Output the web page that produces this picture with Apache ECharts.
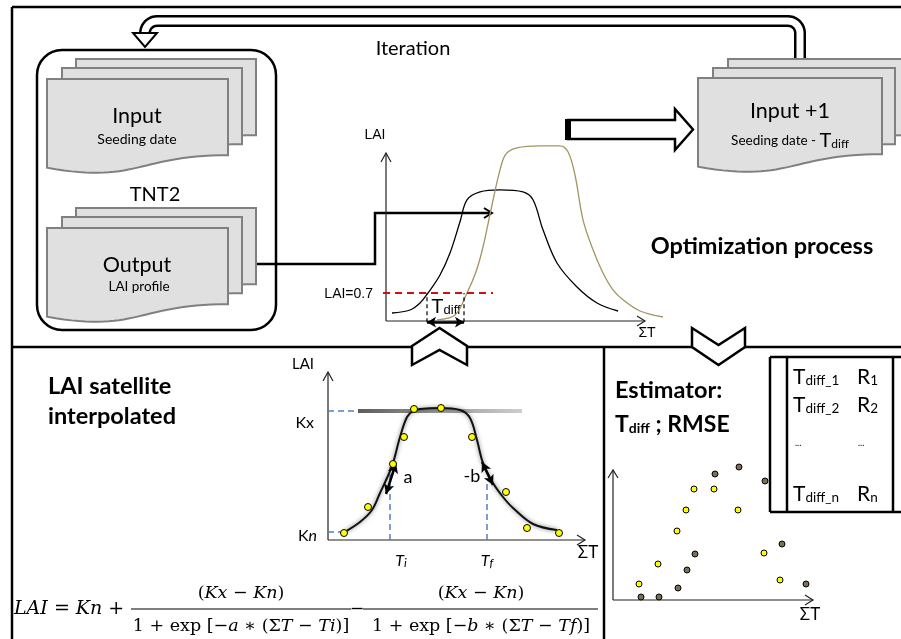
<!DOCTYPE html>
<html><head><meta charset="utf-8">
<script src="https://cdn.jsdelivr.net/npm/echarts@6/dist/echarts.min.js"></script>
<style>html,body{margin:0;padding:0;background:#fff}#c{width:901px;height:639px}</style>
</head><body><div id="c"></div>
<script>
// ---------------- DATA ----------------
// Top panel: simulated LAI profile (TNT2 output) and shifted profile  [ΣT, LAI]
const simulatedLAI = [[60,0.2],[240,0.275],[340,0.45],[420,0.7],[540,1.15],[640,1.7],[740,2.48],[810,3.03],[940,3.23],[1140,3.28],[1370,3.23],[1470,3.03],[1570,2.28],[1710,1.45],[1910,0.85],[2110,0.45],[2320,0.25]];
const shiftedLAI = [[510,0.03],[690,0.15],[810,0.7],[900,1.23],[970,1.85],[1060,2.9],[1140,3.78],[1200,4.18],[1310,4.33],[1540,4.38],[1740,4.38],[1820,4.23],[1890,3.65],[1970,2.53],[2070,1.78],[2170,1.2],[2270,0.78],[2370,0.53],[2540,0.25],[2770,0.1]];
const thresholdLAI = 0.7;
const thresholdSpan = [-30, 1070];
const tdiffBounds = [410, 780];
// Bottom-left panel: fitted double logistic and satellite LAI points
const fittedCurve = [[150,0.175],[320,0.45],[440,0.75],[520,1.175],[590,1.55],[650,1.925],[720,2.575],[790,3.075],[850,3.225],[920,3.275],[1120,3.3],[1320,3.25],[1420,3.05],[1490,2.5],[1550,1.925],[1650,1.425],[1750,1.075],[1850,0.8],[2050,0.4],[2290,0.25]];
const satellitePoints = [[160,0.175],[400,0.825],[650,1.9],[760,2.575],[860,3.275],[1130,3.3],[1440,2.575],[1780,1.2],[1990,0.3],[2310,0.175]];
const KxValue = 3.225, KnValue = 0.2;
const kxLineSpan = [300, 1940];
const kxDashEnd = 300, knDashEnd = 150;
const TiValue = 620, TiTop = 1.825;
const TfValue = 1590, TfTop = 1.5;
const slopeA = [[580,1.15],[680,1.925]];
const slopeB = [[1540,1.95],[1650,1.375]];
// Bottom-right panel: estimator scatter
const estimatorYellow = [[260,0.4],[450,0.9],[640,1.725],[730,2.25],[810,2.775],[1010,2.775],[1250,2.25],[1510,1.175],[1670,0.5]];
const estimatorGray = [[280,0.075],[460,0.075],[650,0.3],[740,0.75],[820,1.15],[1020,3.15],[1260,3.325],[1520,2.975],[1690,1.4],[1930,0.4]];
const tableRows = [['diff_1','1'],['diff_2','2'],['...','...'],['diff_n','n']];

// ---------------- GRAPHICS ----------------
const G = [];
const S = o => { o.silent = true; G.push(o); };
function ln(x1,y1,x2,y2,w,c,dash){S({type:'line',shape:{x1,y1,x2,y2},style:{stroke:c||'#000',lineWidth:w||1,lineDash:dash||null}});}
function pl(points,st){S({type:'polyline',shape:{points},style:Object.assign({fill:null,stroke:'#000',lineWidth:1.5},st||{})});}
function pg(points,st){S({type:'polygon',shape:{points},style:Object.assign({fill:'#fff',stroke:'#000',lineWidth:2},st||{})});}
function tx(x,y,text,st){S({type:'text',x,y,style:Object.assign({text,fill:'#000',font:'16px Lato',align:'center',verticalAlign:'middle'},st||{})});}
function docPts(x0,y0,w){const h=95;const pts=[[x0,y0],[x0+w,y0],[x0+w,y0+0.802*h]];
  const P0=[x0+w,y0+0.802*h],P1=[x0+w/2,y0+0.802*h],P2=[x0+w/2,y0+1.107*h],P3=[x0,y0+0.934*h];
  for(let i=1;i<=30;i++){const t=i/30,u=1-t;
    pts.push([u*u*u*P0[0]+3*u*u*t*P1[0]+3*u*t*t*P2[0]+t*t*t*P3[0], u*u*u*P0[1]+3*u*u*t*P1[1]+3*u*t*t*P2[1]+t*t*t*P3[1]]);}
  return pts;}
function doc(x0,y0,w){pg(docPts(x0,y0,w),{fill:'#e0e0e0',stroke:'#808080',lineWidth:2});}

// frame
ln(12,7,901,7,2.5); ln(12,7,12,639,2.5); ln(12,347,901,347,2.5); ln(604,347,604,639,2.5);

// iteration band
(function(){const pts=[[145,36]];
  for(let i=0;i<=10;i++){const a=Math.PI+i/10*Math.PI/2;pts.push([157+12*Math.cos(a),33+12*Math.sin(a)]);}
  for(let i=0;i<=10;i++){const a=1.5*Math.PI+i/10*Math.PI/2;pts.push([788+12*Math.cos(a),33+12*Math.sin(a)]);}
  pts.push([800,60]);
  pl(pts,{lineWidth:12,stroke:'#000'}); pl(pts,{lineWidth:7,stroke:'#fff'});
  ln(794,60,806,60,2.5);
})();
pg([[133,33],[157,33],[145,47]],{lineWidth:2});
tx(413,49,'Iteration',{font:'20px Lato'});

// container
S({type:'rect',shape:{x:37,y:50,width:239,height:280,r:25},style:{fill:null,stroke:'#000',lineWidth:2.5}});
doc(76,59,180); doc(62,68,180); doc(47,79,181);
doc(76,208,180); doc(62,217,180); doc(47,228,181);
doc(728,59,182); doc(713,68,182); doc(698,78,184);
tx(137,116,'Input',{font:'21.5px Lato'});
tx(137,139,'Seeding date',{font:'14px Lato'});
tx(155,195,'TNT2',{font:'20px Lato'});
tx(137,265,'Output',{font:'21.5px Lato'});
tx(139,287,'LAI profile',{font:'13.5px Lato'});
tx(790,111,'Input +1',{font:'21.5px Lato'});
tx(790,141,'Seeding date - {T|T}{s|diff}',{font:'13.5px Lato',rich:{T:{fontSize:20,fontFamily:'Lato'},s:{fontSize:12,fontFamily:'Lato',padding:[6,0,0,0]}}});
tx(762,246,'Optimization process',{font:'bold 23.5px Lato'});

// connector from output to chart
pl([[257,264],[375,264],[375,213],[491,213]],{lineWidth:2.5});
pl([[484,208],[492,213],[484,218]],{lineWidth:2});

// hollow arrow to Input+1
pg([[568,120],[675,120],[675,109],[693,129.5],[675,150],[675,139],[568,139]],{lineWidth:2.5});
S({type:'rect',shape:{x:565,y:119,width:6,height:21},style:{fill:'#000'}});

// top chart axes + labels
pl([[386,321],[386,153]],{lineWidth:1.2,stroke:'#222'}); pl([[381,162],[386,153],[391,162]],{lineWidth:1.2,stroke:'#222'});
pl([[386,321],[645,321]],{lineWidth:1.2,stroke:'#222'}); pl([[637,316],[645,321],[637,326]],{lineWidth:1.2,stroke:'#222'});
tx(375,135,'LAI',{font:'14px "Liberation Sans"'});
tx(373,294,'LAI=0.7',{font:'14px "Liberation Sans"',align:'right'});
tx(647,333,'ΣT',{font:'14px "Liberation Sans"'});
tx(446,307,'{T|T}{s|diff}',{rich:{T:{fontSize:20,fontFamily:'Liberation Sans'},s:{fontSize:13,fontFamily:'Liberation Sans',padding:[7,0,0,0]}}});

// chevrons
pg([[412,346],[439.5,328],[467,346],[467,365],[439.5,350],[412,365]],{lineWidth:2.5});
pg([[692,328],[718.5,345],[745,328],[745,347],[718.5,365],[692,347]],{lineWidth:2.5});

// bottom-left
tx(48,386,'LAI satellite',{font:'bold 23.5px Lato',align:'left'});
tx(48,416,'interpolated',{font:'bold 23.5px Lato',align:'left'});
pl([[328,540],[328,372]],{lineWidth:1.2,stroke:'#222'}); pl([[323,381],[328,372],[333,381]],{lineWidth:1.2,stroke:'#222'});
pl([[328,540],[585,540]],{lineWidth:1.2,stroke:'#222'}); pl([[577,535],[585,540],[577,545]],{lineWidth:1.2,stroke:'#222'});
tx(303,364,'LAI',{font:'15px Lato'});
tx(314,423,'Kx',{font:'16px Lato',align:'right'});
tx(317,536,'K{i|n}',{font:'16px Lato',align:'right',rich:{i:{fontStyle:'italic',fontSize:16,fontFamily:'Lato'}}});
tx(401,561,'{t|T}{s|i}',{rich:{t:{fontStyle:'italic',fontSize:16,fontFamily:'Lato'},s:{fontStyle:'italic',fontSize:12,fontFamily:'Lato',padding:[4,0,0,0]}}});
tx(487,561,'{t|T}{s|f}',{rich:{t:{fontStyle:'italic',fontSize:16,fontFamily:'Lato'},s:{fontStyle:'italic',fontSize:12,fontFamily:'Lato',padding:[4,0,0,0]}}});
tx(408,477,'a',{font:'18px Lato'});
tx(472,476,'-b',{font:'18px Lato'});
tx(588,553,'ΣT',{font:'17px Lato'});

// formula
const FR = {i:{fontStyle:'italic',fontSize:19,fontFamily:'DejaVu Serif'}};
const FF = '19px "DejaVu Serif"';
const FR2 = {i:{fontStyle:'italic',fontSize:17.5,fontFamily:'DejaVu Serif'}};
const FF2 = '17.5px "DejaVu Serif"';
tx(14,609,'{i|LAI} = {i|Kn} +',{font:FF,align:'left',rich:FR});
tx(241,593,'({i|Kx} − {i|Kn})',{font:FF2,rich:FR2});
ln(131,609,351,609,1.2);
tx(241,626,'1 + exp [−{i|a} ∗ (Σ{i|T} − {i|Ti})]',{font:FF2,rich:FR2});
tx(357,609,'−',{font:FF2});
tx(481,593,'({i|Kx} − {i|Kn})',{font:FF2,rich:FR2});
ln(363,609,598,609,1.2);
tx(481,626,'1 + exp [−{i|b} ∗ (Σ{i|T} − {i|Tf})]',{font:FF2,rich:FR2});

// bottom-right
tx(615,390,'Estimator:',{font:'bold 23.5px Lato',align:'left'});
tx(615,425,'{b|T}{s|diff}{b| ; RMSE}',{align:'left',rich:{b:{fontWeight:'bold',fontSize:23,fontFamily:'Lato'},s:{fontWeight:'bold',fontSize:14,fontFamily:'Lato',padding:[7,0,0,0]}}});
ln(770,357,901,357,2.5); ln(770,512,901,512,2.5);
ln(770,357,770,512,2.5); ln(787,357,787,512,2.5); ln(893,357,893,512,2.5);
const rowY = [377,405,443,494];
tableRows.forEach((r,k)=>{
  if(r[0]==='...'){tx(795,rowY[k],'...',{font:'9px Lato',align:'left'});tx(858,rowY[k],'...',{font:'9px Lato',align:'left'});return;}
  tx(793,rowY[k],'{T|T}{s|'+r[0]+'}',{align:'left',rich:{T:{fontSize:21,fontFamily:'Lato'},s:{fontSize:13.5,fontFamily:'Lato',padding:[7,0,0,0]}}});
  tx(857,rowY[k],'{R|R}{s|'+r[1]+'}',{align:'left',rich:{R:{fontSize:21,fontFamily:'Lato'},s:{fontSize:13.5,fontFamily:'Lato',padding:[7,0,0,0]}}});
});
pl([[613,600],[613,470]],{lineWidth:1.2,stroke:'#222'}); pl([[608,478],[613,470],[618,478]],{lineWidth:1.2,stroke:'#222'});
pl([[613,600],[813,600]],{lineWidth:1.2,stroke:'#222'}); pl([[805,595],[813,600],[805,605]],{lineWidth:1.2,stroke:'#222'});
tx(810,615,'ΣT',{font:'17px Lato'});

// ---------------- CHART ----------------
const chart = echarts.init(document.getElementById('c'), null, {renderer:'canvas'});
const blue = '#4f81bd';
const dash = (data,color,w,type,xi) => ({type:'line',xAxisIndex:xi,yAxisIndex:xi,data,symbol:'none',clip:false,silent:true,
  lineStyle:{color,width:w,type}, z:3});
chart.setOption({
  animation:false,
  textStyle:{fontFamily:'Lato'},
  graphic:{elements:G},
  grid:[
    {left:376,top:121,width:290,height:220},
    {left:328,top:340,width:260,height:200},
    {left:613,top:440,width:200,height:160}
  ],
  xAxis:[
    {gridIndex:0,type:'value',min:-100,max:2800,show:false},
    {gridIndex:1,type:'value',min:0,max:2600,show:false},
    {gridIndex:2,type:'value',min:0,max:2000,show:false}
  ],
  yAxis:[
    {gridIndex:0,type:'value',min:-0.5,max:5,show:false},
    {gridIndex:1,type:'value',min:0,max:5,show:false},
    {gridIndex:2,type:'value',min:0,max:4,show:false}
  ],
  series:[
    {type:'line',xAxisIndex:0,yAxisIndex:0,data:simulatedLAI,smooth:0.35,symbol:'none',clip:false,silent:true,
      lineStyle:{color:'#000',width:1.3},z:3,
      markLine:{silent:true,animation:false,symbol:['arrow','arrow'],symbolSize:[8,9],label:{show:false},
        lineStyle:{color:'#000',width:2.5,type:'solid'},
        data:[[{coord:[tdiffBounds[0],-0.03]},{coord:[tdiffBounds[1],-0.03]}]]}},
    {type:'line',xAxisIndex:0,yAxisIndex:0,data:shiftedLAI,smooth:0.35,symbol:'none',clip:false,silent:true,
      lineStyle:{color:'#a39462',width:1.3},z:3},
    dash([[thresholdSpan[0],thresholdLAI],[thresholdSpan[1],thresholdLAI]],'#d01010',2,[7,5],0),
    dash([[tdiffBounds[0],-0.03],[tdiffBounds[0],thresholdLAI]],'#000',1.2,[4,3],0),
    dash([[tdiffBounds[1],-0.03],[tdiffBounds[1],thresholdLAI]],'#000',1.2,[4,3],0),
    {type:'line',xAxisIndex:1,yAxisIndex:1,data:[[kxLineSpan[0],KxValue],[kxLineSpan[1],KxValue]],symbol:'none',clip:false,silent:true,
      lineStyle:{width:4,color:new echarts.graphic.LinearGradient(0,0,1,0,[{offset:0,color:'#5a5a5a'},{offset:0.5,color:'#9a9a9a'},{offset:1,color:'#d0d0d0'}])},z:2},
    dash([[0,KxValue],[kxDashEnd,KxValue]],blue,1.5,[6,4],1),
    dash([[0,KnValue],[knDashEnd,KnValue]],blue,1.5,[6,4],1),
    dash([[TiValue,0],[TiValue,TiTop]],blue,1.5,[6,4],1),
    dash([[TfValue,0],[TfValue,TfTop]],blue,1.5,[6,4],1),
    {type:'line',xAxisIndex:1,yAxisIndex:1,data:fittedCurve,smooth:0.35,symbol:'none',clip:false,silent:true,
      lineStyle:{color:'#111',width:2,shadowColor:'rgba(0,0,0,0.55)',shadowBlur:4},z:4,
      markLine:{silent:true,animation:false,symbol:['arrow','arrow'],symbolSize:[8,10],label:{show:false},
        lineStyle:{color:'#000',width:2.5,type:'solid'},
        data:[[{coord:slopeA[0]},{coord:slopeA[1]}],[{coord:slopeB[0]},{coord:slopeB[1]}]]}},
    {type:'scatter',xAxisIndex:1,yAxisIndex:1,data:satellitePoints,symbolSize:7,silent:true,z:5,
      itemStyle:{color:'#ffff00',borderColor:'#000',borderWidth:1,opacity:1}},
    {type:'scatter',xAxisIndex:2,yAxisIndex:2,data:estimatorYellow,symbolSize:6,silent:true,z:5,
      itemStyle:{color:'#ffff00',borderColor:'#000',borderWidth:1,opacity:1}},
    {type:'scatter',xAxisIndex:2,yAxisIndex:2,data:estimatorGray,symbolSize:6,silent:true,z:5,
      itemStyle:{color:'#7b6f52',borderColor:'#000',borderWidth:1,opacity:1}}
  ]
});
</script></body></html>
